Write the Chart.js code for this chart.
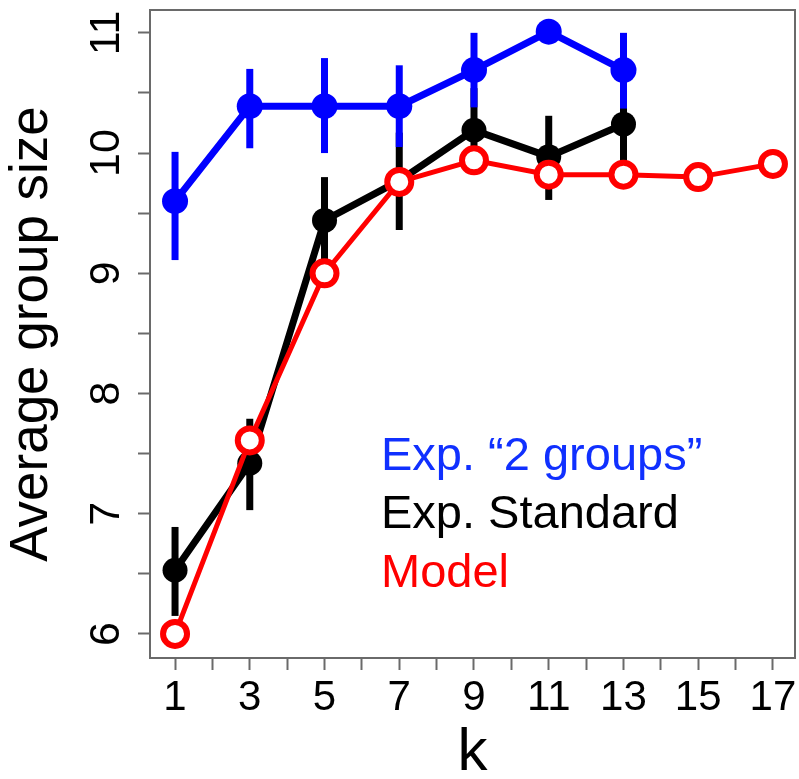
<!DOCTYPE html>
<html lang="en">
<head>
    <meta charset="UTF-8">
    <title>Average group size vs k</title>
    <script src="https://cdn.jsdelivr.net/npm/chart.js"></script>
    <style>
        body { margin: 0; background: #fff; overflow: hidden; }
        #wrap { width: 799px; height: 779px; }
    </style>
</head>
<body>
    <div id="wrap">
        <canvas id="groupChart" width="799" height="779"></canvas>
    </div>
    <script>
        // values
        const kExp = [1, 3, 5, 7, 9, 11, 13];
        const kModel = [1, 3, 5, 7, 9, 11, 13, 15, 17];

        const exp2Groups = [9.60, 10.39, 10.39, 10.39, 10.69, 11.01, 10.69];
        const exp2GroupsLow = [9.11, 10.04, 10.00, 10.05, 10.38, 11.01, 10.37];
        const exp2GroupsHigh = [10.01, 10.70, 10.79, 10.73, 11.00, 11.01, 11.00];

        const expStandard = [6.53, 7.42, 9.44, 9.77, 10.19, 9.97, 10.24];
        const expStandardLow = [6.15, 7.03, 9.08, 9.36, 9.84, 9.61, 9.89];
        const expStandardHigh = [6.89, 7.79, 9.80, 10.17, 10.54, 10.31, 10.59];

        const model = [6.00, 7.61, 9.00, 9.76, 9.94, 9.82, 9.82, 9.80, 9.91];

        const xTickMarks = [1, 2, 3, 4, 5, 6, 7, 8, 9, 10, 11, 12, 13, 14, 15, 16, 17];
        const xTickLabels = [1, 3, 5, 7, 9, 11, 13, 15, 17];
        const yTickMarks = [6, 6.5, 7, 7.5, 8, 8.5, 9, 9.5, 10, 10.5, 11];
        const yTickLabels = [6, 7, 8, 9, 10, 11];

        const seriesLabels = ['Exp. \u201C2 groups\u201D', 'Exp. Standard', 'Model'];

        const FONT = '"Liberation Sans", Arial, Helvetica, sans-serif';
        const FRAME = '#6a6a6a';

        const toPoints = (xs, ys) => xs.map((x, i) => ({ x: x, y: ys[i] }));

        // error bars, drawn just before each dataset so the layering follows dataset order
        const errorBars = {
            id: 'errorBars',
            beforeDatasetDraw(chart, args) {
                const ds = chart.data.datasets[args.index];
                if (!ds.errLow) return;
                const { ctx, scales: { x, y } } = chart;
                ctx.save();
                ctx.strokeStyle = ds.borderColor;
                ctx.lineWidth = 7;
                ctx.lineCap = 'butt';
                ds.data.forEach((p, i) => {
                    if (ds.errLow[i] === ds.errHigh[i]) return;
                    const px = x.getPixelForValue(p.x);
                    ctx.beginPath();
                    ctx.moveTo(px, y.getPixelForValue(ds.errLow[i]));
                    ctx.lineTo(px, y.getPixelForValue(ds.errHigh[i]));
                    ctx.stroke();
                });
                ctx.restore();
            }
        };

        // box round the plot area
        const frame = {
            id: 'frame',
            beforeDatasetsDraw(chart) {
                const { ctx, chartArea: a } = chart;
                ctx.save();
                ctx.strokeStyle = FRAME;
                ctx.lineWidth = 2;
                ctx.strokeRect(a.left, a.top, a.right - a.left, a.bottom - a.top);
                ctx.restore();
            }
        };

        // text legend inside the plot
        const textLegend = {
            id: 'textLegend',
            afterDatasetsDraw(chart) {
                const { ctx } = chart;
                const ys = [470, 528, 587];
                ctx.save();
                ctx.font = '47px ' + FONT;
                ctx.textAlign = 'left';
                ctx.textBaseline = 'alphabetic';
                chart.data.datasets.forEach((ds, i) => {
                    ctx.fillStyle = ds.textColor;
                    ctx.fillText(ds.label, 381, ys[i]);
                });
                ctx.restore();
            }
        };

        const ctx = document.getElementById('groupChart').getContext('2d');
        new Chart(ctx, {
            type: 'line',
            data: {
                datasets: [{
                    label: seriesLabels[0],
                    data: toPoints(kExp, exp2Groups),
                    errLow: exp2GroupsLow,
                    errHigh: exp2GroupsHigh,
                    borderColor: '#0000ff',
                    backgroundColor: '#0000ff',
                    textColor: '#1030ff',
                    borderWidth: 7,
                    pointRadius: 13,
                    pointBorderWidth: 0,
                    pointBackgroundColor: '#0000ff',
                    order: 2
                }, {
                    label: seriesLabels[1],
                    data: toPoints(kExp, expStandard),
                    errLow: expStandardLow,
                    errHigh: expStandardHigh,
                    borderColor: '#000000',
                    backgroundColor: '#000000',
                    textColor: '#000000',
                    borderWidth: 7,
                    pointRadius: 12.5,
                    pointBorderWidth: 0,
                    pointBackgroundColor: '#000000',
                    order: 3
                }, {
                    label: seriesLabels[2],
                    data: toPoints(kModel, model),
                    borderColor: '#ff0000',
                    backgroundColor: '#ffffff',
                    textColor: '#ff0000',
                    borderWidth: 5,
                    pointRadius: 12,
                    pointBorderWidth: 6,
                    pointBorderColor: '#ff0000',
                    pointBackgroundColor: '#ffffff',
                    order: 1
                }]
            },
            options: {
                responsive: false,
                animation: false,
                devicePixelRatio: 1,
                layout: { autoPadding: false, padding: { top: 10, right: 4, left: 0, bottom: 0 } },
                elements: { line: { tension: 0 } },
                plugins: {
                    legend: { display: false },
                    tooltip: { enabled: false }
                },
                scales: {
                    x: {
                        type: 'linear',
                        min: 0.33,
                        max: 17.59,
                        afterBuildTicks: (s) => { s.ticks = xTickMarks.map(v => ({ value: v })); },
                        afterFit: (s) => { s.height = 121; s.paddingLeft = 0; s.paddingRight = 0; },
                        border: { display: false },
                        grid: {
                            drawOnChartArea: false,
                            drawTicks: true,
                            tickLength: 12,
                            tickWidth: 2,
                            tickColor: FRAME
                        },
                        ticks: {
                            autoSkip: false,
                            maxRotation: 0,
                            padding: 3,
                            color: '#000',
                            font: { family: FONT, size: 42, lineHeight: 1.2 },
                            callback: (v) => xTickLabels.includes(v) ? String(v) : ''
                        },
                        title: {
                            display: true,
                            text: 'k',
                            color: '#000',
                            font: { family: FONT, size: 60, lineHeight: 0.8 },
                            padding: { top: 0, bottom: 2 }
                        }
                    },
                    y: {
                        type: 'linear',
                        min: 5.80,
                        max: 11.19,
                        afterBuildTicks: (s) => { s.ticks = yTickMarks.map(v => ({ value: v })); },
                        afterFit: (s) => { s.width = 150; s.paddingTop = 0; s.paddingBottom = 0; },
                        border: { display: false },
                        grid: {
                            drawOnChartArea: false,
                            drawTicks: true,
                            tickLength: 12,
                            tickWidth: 2,
                            tickColor: FRAME
                        },
                        ticks: {
                            autoSkip: false,
                            minRotation: 90,
                            maxRotation: 90,
                            crossAlign: 'center',
                            padding: 7,
                            color: '#000',
                            font: { family: FONT, size: 43, lineHeight: 1.2 },
                            callback: (v) => yTickLabels.includes(v) ? String(v) : ''
                        },
                        title: {
                            display: true,
                            text: 'Average group size',
                            color: '#000',
                            font: { family: FONT, size: 53, lineHeight: 1 },
                            padding: { top: 6, bottom: 0 }
                        }
                    }
                }
            },
            plugins: [frame, errorBars, textLegend]
        });
    </script>
</body>
</html>
